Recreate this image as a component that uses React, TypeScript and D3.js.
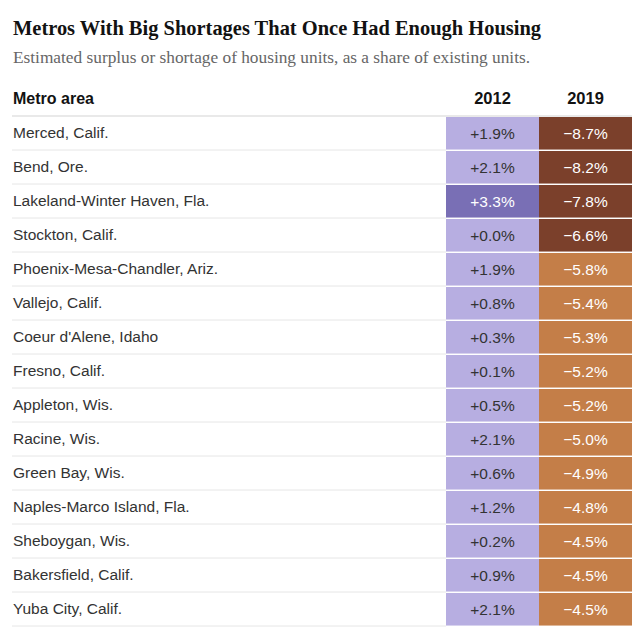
import React from "react";
import * as d3 from "d3";

const title = "Metros With Big Shortages That Once Had Enough Housing";
const subtitle = "Estimated surplus or shortage of housing units, as a share of existing units.";
const columns = ["2012", "2019"];
const metros = [
  "Merced, Calif.",
  "Bend, Ore.",
  "Lakeland-Winter Haven, Fla.",
  "Stockton, Calif.",
  "Phoenix-Mesa-Chandler, Ariz.",
  "Vallejo, Calif.",
  "Coeur d'Alene, Idaho",
  "Fresno, Calif.",
  "Appleton, Wis.",
  "Racine, Wis.",
  "Green Bay, Wis.",
  "Naples-Marco Island, Fla.",
  "Sheboygan, Wis.",
  "Bakersfield, Calif.",
  "Yuba City, Calif.",
];
const values2012 = [1.9, 2.1, 3.3, 0.0, 1.9, 0.8, 0.3, 0.1, 0.5, 2.1, 0.6, 1.2, 0.2, 0.9, 2.1];
const values2019 = [-8.7, -8.2, -7.8, -6.6, -5.8, -5.4, -5.3, -5.2, -5.2, -5.0, -4.9, -4.8, -4.5, -4.5, -4.5];

const W = 640;
const H = 634;
const left = 12;
const tableTop = 116;
const rowH = 34;
const colStart = 446;
const colEnd = 632;

const fmt = (v: number) => (v >= 0 ? "+" : "\u2212") + Math.abs(v).toFixed(1) + "%";

export default function App() {
  const y = d3
    .scaleBand<number>()
    .domain(d3.range(metros.length))
    .range([tableTop, tableTop + rowH * metros.length])
    .paddingInner(0);
  const x = d3.scaleBand<string>().domain(columns).range([colStart, colEnd]).padding(0);

  const posColor = d3.scaleThreshold<number, string>().domain([3]).range(["#b7aee1", "#796fb5"]);
  const negColor = d3.scaleThreshold<number, string>().domain([-6]).range(["#7b402b", "#c47e48"]);
  const posText = d3.scaleThreshold<number, string>().domain([3]).range(["#333333", "#ffffff"]);
  const negText = () => "#ffffff";

  const sans = "'Liberation Sans', Arial, sans-serif";
  const serif = "'Liberation Serif', 'Times New Roman', serif";

  const cols = [
    { key: "2012", vals: values2012, fill: posColor, text: posText },
    { key: "2019", vals: values2019, fill: negColor, text: negText },
  ];

  return (
    <svg
      width={W}
      height={H}
      viewBox={`0 0 ${W} ${H}`}
      style={{ position: "absolute", left: 0, top: 0, background: "#fff" }}
    >
      <text
        x={13}
        y={35}
        fontFamily={serif}
        fontWeight="bold"
        fontSize={22}
        fill="#121212"
        textLength={528}
        lengthAdjust="spacingAndGlyphs"
      >
        {title}
      </text>
      <text
        x={13}
        y={63}
        fontFamily={serif}
        fontSize={16}
        fill="#666666"
        textLength={517}
        lengthAdjust="spacingAndGlyphs"
      >
        {subtitle}
      </text>
      <text x={13} y={104} fontFamily={sans} fontWeight="bold" fontSize={16} fill="#121212">
        Metro area
      </text>
      {columns.map((c) => (
        <text
          key={c}
          x={(x(c) as number) + x.bandwidth() / 2}
          y={104}
          textAnchor="middle"
          fontFamily={sans}
          fontWeight="bold"
          fontSize={16.5}
          fill="#121212"
        >
          {c}
        </text>
      ))}
      <line x1={left} x2={colEnd} y1={tableTop} y2={tableTop} stroke="#e2e2e2" strokeWidth={1.5} />
      {metros.map((m, i) => {
        const y0 = y(i) as number;
        return (
          <g key={m}>
            <line
              x1={left}
              x2={colStart}
              y1={y0 + rowH}
              y2={y0 + rowH}
              stroke="#e6e6e6"
              strokeWidth={1}
            />
            <text x={13} y={y0 + rowH / 2 + 5} fontFamily={sans} fontSize={15.5} fill="#333333">
              {m}
            </text>
            {cols.map((c) => {
              const v = c.vals[i];
              const cx = x(c.key) as number;
              return (
                <g key={c.key}>
                  <rect x={cx} y={y0 + 1} width={x.bandwidth()} height={rowH - 1} fill={c.fill(v)} />
                  <text
                    x={cx + x.bandwidth() / 2}
                    y={y0 + rowH / 2 + 5.5}
                    textAnchor="middle"
                    fontFamily={sans}
                    fontSize={15.5}
                    fill={c.text(v)}
                  >
                    {fmt(v)}
                  </text>
                </g>
              );
            })}
            <line
              x1={colStart}
              x2={colEnd}
              y1={y0 + rowH}
              y2={y0 + rowH}
              stroke="#ffffff"
              strokeOpacity={0.6}
              strokeWidth={1.5}
            />
          </g>
        );
      })}
    </svg>
  );
}
